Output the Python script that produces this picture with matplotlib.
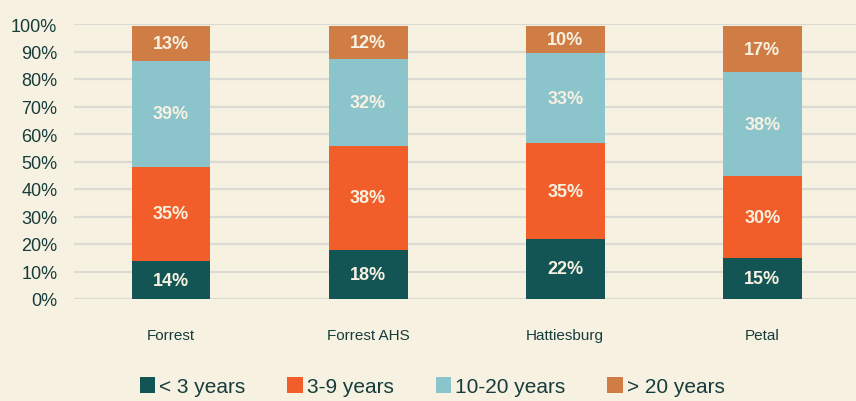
import numpy as np
import matplotlib
matplotlib.use("Agg")
import matplotlib.pyplot as plt
from matplotlib.patches import Patch

# data
places = ["Forrest", "Forrest AHS", "Hattiesburg", "Petal"]
series = ["< 3 years", "3-9 years", "10-20 years", "> 20 years"]
under_3 = [14, 18, 22, 15]
y3_9 = [35, 38, 35, 30]
y10_20 = [39, 32, 33, 38]
over_20 = [13, 12, 10, 17]

colors = ["#135454", "#f25e29", "#8bc4cb", "#cf7d45"]
bg = "#f7f1e1"
ink = "#163c3c"
label_col = "#f7f1e1"

plt.rcParams["font.family"] = ["Liberation Sans", "DejaVu Sans"]

vals = np.array([under_3, y3_9, y10_20, over_20], dtype=float)
shares = vals / vals.sum(axis=0) * 100

fig = plt.figure(figsize=(8.56, 4.02), dpi=100, facecolor=bg)
ax = fig.add_axes([74 / 856, (402 - 300) / 402, 1 - 74 / 856, 275 / 402])
ax.set_facecolor(bg)

x = np.arange(len(places))
bottom = np.zeros(len(places))
for i in range(len(series)):
    bars = ax.bar(x, shares[i] * 0.993, 0.40, bottom=bottom, color=colors[i], zorder=3)
    for j, b in enumerate(bars):
        ax.text(b.get_x() + b.get_width() / 2, bottom[j] + shares[i][j] * 0.993 / 2,
                "%d%%" % vals[i][j], ha="center", va="center",
                color=label_col, fontsize=13, fontweight="bold", zorder=4)
    bottom += shares[i] * 0.993

ax.set_xlim(-0.492, 3.475)
ax.set_ylim(0, 100)
ax.set_yticks(np.arange(0, 101, 10))
ax.set_yticklabels(["%d%%" % v for v in range(0, 101, 10)], fontsize=13, color=ink)
ax.set_xticks(x)
ax.set_xticklabels(places, fontsize=11, color=ink)
ax.tick_params(axis="both", length=0)
ax.tick_params(axis="y", pad=12)
ax.tick_params(axis="x", pad=21)
ax.grid(axis="y", color="#dcdad4", linewidth=1.6, zorder=0)
for s in ax.spines.values():
    s.set_visible(False)

handles = [Patch(facecolor=c, edgecolor="none") for c in colors]
fig.legend(handles, series, loc="lower center", bbox_to_anchor=(0.505, -0.035),
           ncol=4, frameon=False, fontsize=15, labelcolor=ink,
           handlelength=0.75, handleheight=0.75, handletextpad=0.2,
           columnspacing=2.0)

fig.savefig("out.png", dpi=100, facecolor=bg)
